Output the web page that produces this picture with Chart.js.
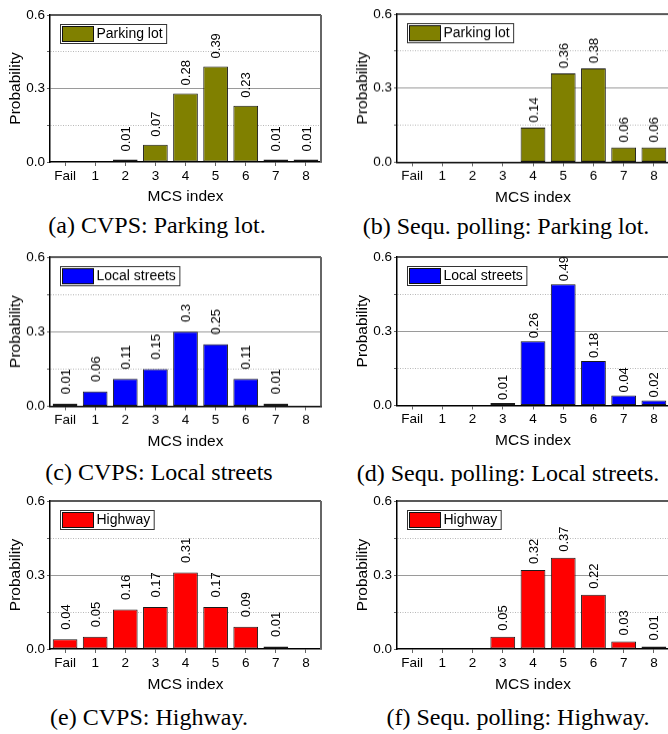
<!DOCTYPE html>
<html><head><meta charset="utf-8">
<script src="https://cdn.jsdelivr.net/npm/chart.js@4/dist/chart.umd.min.js"></script>
<style>
html,body{margin:0;padding:0;background:#fff;width:668px;height:734px;overflow:hidden;position:relative}
canvas{position:absolute}
.cap{position:absolute;font-family:'Liberation Serif','Times New Roman',serif;font-size:24px;white-space:nowrap;transform:translateX(-50%);line-height:1;color:#000}
</style></head><body>
<script>
// ---- data ----
const categories = ['Fail', '1', '2', '3', '4', '5', '6', '7', '8'];
const yMajorTicks = [0.0, 0.3, 0.6];
const cvpsParking = [0, 0, 0.01, 0.07, 0.28, 0.39, 0.23, 0.01, 0.01];
const seqParking = [0, 0, 0, 0, 0.14, 0.36, 0.38, 0.06, 0.06];
const cvpsLocal = [0.01, 0.06, 0.11, 0.15, 0.3, 0.25, 0.11, 0.01, 0];
const seqLocal = [0, 0, 0, 0.01, 0.26, 0.49, 0.18, 0.04, 0.02];
const cvpsHighway = [0.04, 0.05, 0.16, 0.17, 0.31, 0.17, 0.09, 0.01, 0];
const seqHighway = [0, 0, 0, 0.05, 0.32, 0.37, 0.22, 0.03, 0.01];
const seriesNames = ['Parking lot', 'Local streets', 'Highway'];
const captions = ['(a) CVPS: Parking lot.', '(b) Sequ. polling: Parking lot.',
  '(c) CVPS: Local streets', '(d) Sequ. polling: Local streets.',
  '(e) CVPS: Highway.', '(f) Sequ. polling: Highway.'];

// ---- layout ----
const FONT = '"Liberation Sans", Arial, Helvetica, sans-serif';
const TITLE_LH = 15.5 * 1.2;
const CAP_FS = 24;
const panels = [
  {data: cvpsParking, name: seriesNames[0], color: '#808000', cap: captions[0], cx: 0,   cw: 334, L: 50,  T: 15,  R: 321, B: 162, yTitleX: 16,  xTitleY: 197, gap: 8,   capX: 157, capBase: 233},
  {data: seqParking,  name: seriesNames[0], color: '#808000', cap: captions[1], cx: 334, cw: 340, L: 397, T: 14,  R: 669, B: 162, yTitleX: 363, xTitleY: 197.5, gap: 5, capX: 506, capBase: 234},
  {data: cvpsLocal,   name: seriesNames[1], color: '#0000ff', cap: captions[2], cx: 0,   cw: 334, L: 50,  T: 257, R: 321, B: 406, yTitleX: 16,  xTitleY: 441.5, gap: 9.5, capX: 159, capBase: 480.5},
  {data: seqLocal,    name: seriesNames[1], color: '#0000ff', cap: captions[3], cx: 334, cw: 340, L: 397, T: 257, R: 669, B: 405.5, yTitleX: 363, xTitleY: 441, gap: 3, capX: 508, capBase: 481.5},
  {data: cvpsHighway, name: seriesNames[2], color: '#ff0000', cap: captions[4], cx: 0,   cw: 334, L: 50,  T: 501, R: 321, B: 649, yTitleX: 16,  xTitleY: 685, gap: 9.5, capX: 149, capBase: 725},
  {data: seqHighway,  name: seriesNames[2], color: '#ff0000', cap: captions[5], cx: 334, cw: 340, L: 397, T: 501, R: 669, B: 649, yTitleX: 363, xTitleY: 685, gap: 6, capX: 518, capBase: 725}
];

const barLabels = {
  id: 'barLabels',
  afterDatasetsDraw(chart, args, opts) {
    const ctx = chart.ctx;
    const meta = chart.getDatasetMeta(0);
    const ds = chart.data.datasets[0];
    ctx.save();
    ctx.font = '13px ' + FONT;
    ctx.fillStyle = '#000';
    ctx.textAlign = 'left';
    ctx.textBaseline = 'middle';
    meta.data.forEach((bar, i) => {
      const v = ds.data[i];
      if (!v) return;
      ctx.save();
      ctx.translate(bar.x + 1, bar.y - opts.gap);
      ctx.rotate(-Math.PI / 2);
      ctx.fillText(String(v), 0, 0);
      ctx.restore();
    });
    ctx.restore();
  }
};

const frameLegend = {
  id: 'frameLegend',
  afterDraw(chart) {
    const ctx = chart.ctx;
    const a = chart.chartArea;
    const ds = chart.data.datasets[0];
    ctx.save();
    ctx.strokeStyle = '#222'; ctx.lineWidth = 1.5;
    ctx.beginPath(); ctx.moveTo(a.left, a.top); ctx.lineTo(a.right, a.top); ctx.stroke();
    ctx.strokeStyle = '#666'; ctx.lineWidth = 2;
    ctx.beginPath(); ctx.moveTo(a.right, a.top); ctx.lineTo(a.right, a.bottom); ctx.stroke();
    ctx.font = '14px ' + FONT;
    const tw = ctx.measureText(ds.label).width;
    const x = a.left + 10.5, y = a.top + 9.5, w = 37 + tw + 3, h = 19;
    ctx.fillStyle = '#fff'; ctx.fillRect(x, y, w, h);
    ctx.strokeStyle = '#333'; ctx.lineWidth = 1; ctx.strokeRect(x, y, w, h);
    ctx.fillStyle = ds.backgroundColor; ctx.fillRect(x + 2, y + 2, 31, 15);
    ctx.strokeStyle = '#111'; ctx.strokeRect(x + 2, y + 2, 31, 15);
    ctx.fillStyle = '#000'; ctx.textAlign = 'left'; ctx.textBaseline = 'middle';
    ctx.fillText(ds.label, x + 36, y + h / 2 + 0.5);
    ctx.restore();
  }
};

panels.forEach(p => {
  const top = p.T - 15;
  const ch = p.xTitleY + 12 - top;
  const cv = document.createElement('canvas');
  cv.width = p.cw; cv.height = ch;
  cv.style.left = p.cx + 'px'; cv.style.top = top + 'px';
  cv.style.width = p.cw + 'px'; cv.style.height = ch + 'px';
  document.body.appendChild(cv);
  const hx = p.xTitleY - p.B + TITLE_LH / 2;
  new Chart(cv, {
    type: 'bar',
    data: {
      labels: categories,
      datasets: [{
        label: p.name, data: p.data, backgroundColor: p.color,
        borderColor: '#1a1a1a', borderWidth: 1, borderSkipped: false,
        barPercentage: 0.82, categoryPercentage: 1
      }]
    },
    options: {
      responsive: false, animation: false, devicePixelRatio: 1,
      layout: {padding: {left: 0, top: p.T - top, right: p.cx + p.cw - p.R, bottom: 12 - TITLE_LH / 2}},
      plugins: {legend: {display: false}, tooltip: {enabled: false}, barLabels: {gap: p.gap}},
      scales: {
        x: {
          offset: true,
          grid: {display: true, drawOnChartArea: false, offset: false, tickLength: 4, tickColor: '#666', tickWidth: 1},
          border: {color: '#000', width: 1.5},
          ticks: {color: '#000', font: {family: FONT, size: 13.5}, padding: 2, maxRotation: 0, autoSkip: false},
          title: {display: true, text: 'MCS index', color: '#000', font: {family: FONT, size: 15.5, lineHeight: 1.2}, padding: 0},
          afterFit: s => { s.height = hx; }
        },
        y: {
          min: 0, max: 0.6,
          ticks: {
            stepSize: 0.15, color: '#000', font: {family: FONT, size: 13.5}, padding: 2,
            callback: v => yMajorTicks.some(t => Math.abs(t - v) < 1e-6) ? v.toFixed(1) : ''
          },
          grid: {
            tickLength: 3, tickColor: '#666', lineWidth: 1,
            color: c => (c.index === 0 || c.index === 4) ? 'rgba(0,0,0,0)' : (c.index === 2 ? '#9a9a9a' : '#b8b8b8')
          },
          border: {color: '#000', width: 1.5, dash: c => (c.type === 'tick' && c.index % 2 === 1) ? [1, 1.5] : []},
          title: {display: true, text: 'Probability', color: '#000', font: {family: FONT, size: 15.5, lineHeight: 1.2}, padding: {top: p.yTitleX - p.cx - TITLE_LH / 2, bottom: 0}},
          afterFit: s => { s.width = p.L - p.cx; }
        }
      }
    },
    plugins: [barLabels, frameLegend]
  });
  const cap = document.createElement('div');
  cap.className = 'cap';
  cap.textContent = p.cap;
  cap.style.left = p.capX + 'px';
  cap.style.top = (p.capBase - 0.8375 * CAP_FS) + 'px';
  document.body.appendChild(cap);
});
</script>
</body></html>
